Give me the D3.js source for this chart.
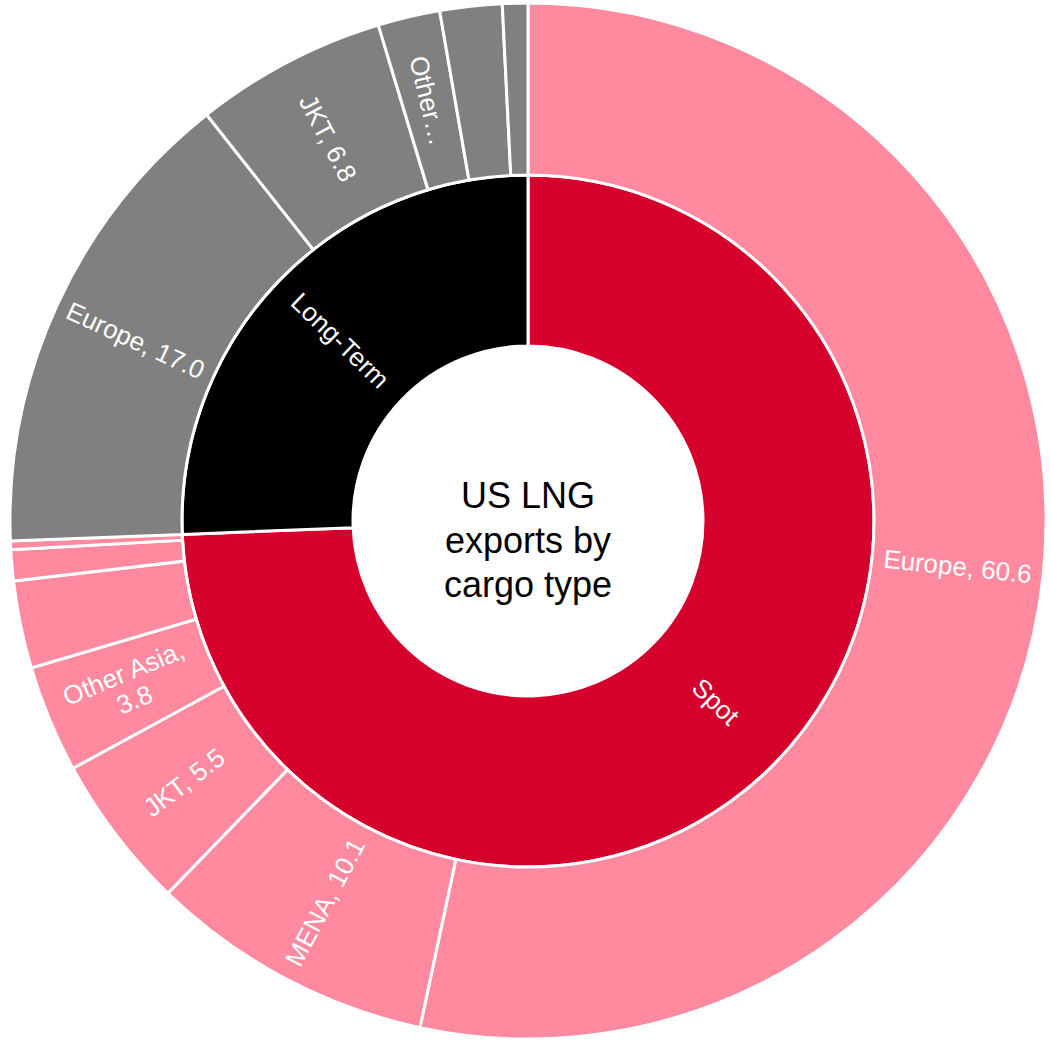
<!DOCTYPE html>
<html>
<head>
<meta charset="utf-8">
<script src="https://cdn.jsdelivr.net/npm/d3@7/dist/d3.min.js"></script>
<style>
  html, body { margin: 0; padding: 0; background: #ffffff; }
  svg { display: block; }
  text { font-family: "Liberation Sans", Arial, sans-serif; }
</style>
</head>
<body>
<div id="chart"></div>
<script>
// ---------- data ----------
const cargoTypes = ["Spot", "Long-Term"];

const spotDestinations = ["Europe", "MENA", "JKT", "Other Asia", "Americas", "Other", "Africa"];
const spotValues       = [60.6, 10.1, 5.5, 3.8, 3.1, 1.1, 0.3];
const spotLabels       = [["Europe, 60.6"], ["MENA, 10.1"], ["JKT, 5.5"], ["Other Asia,", "3.8"], [], [], []];

const longTermDestinations = ["Europe", "JKT", "Other Asia", "MENA", "Americas"];
const longTermValues       = [17.0, 6.8, 2.2, 2.2, 0.9];
const longTermLabels       = [["Europe, 17.0"], ["JKT, 6.8"], ["Other…"], [], []];

const centerTitle = ["US LNG", "exports by", "cargo type"];

// ---------- layout ----------
const W = 1051, H = 1045;
const cx = 528, cy = 521;
const r0 = 175, r1 = 346, r2 = 518;

const innerColors = { "Spot": "#d5002b", "Long-Term": "#000000" };
const outerColors = { "Spot": "#ff8aa0", "Long-Term": "#808080" };

const groups = [
  { type: cargoTypes[0], names: spotDestinations, values: spotValues, labels: spotLabels },
  { type: cargoTypes[1], names: longTermDestinations, values: longTermValues, labels: longTermLabels }
];

const innerData = groups.map(g => ({ type: g.type, value: d3.sum(g.values), labels: [g.type] }));
const outerData = groups.flatMap(g => g.values.map((v, i) => ({
  type: g.type, name: g.names[i], value: v, labels: g.labels[i]
})));

const pie = d3.pie().sort(null).value(d => d.value).startAngle(0).endAngle(2 * Math.PI);
const innerArcs = pie(innerData);
const outerArcs = pie(outerData);

const svg = d3.select("#chart").append("svg")
  .attr("width", W).attr("height", H);

const g = svg.append("g").attr("transform", `translate(${cx},${cy})`);

const arcInner = d3.arc().innerRadius(r0).outerRadius(r1);
const arcOuter = d3.arc().innerRadius(r1).outerRadius(r2);

g.selectAll("path.inner").data(innerArcs).join("path")
  .attr("class", "inner")
  .attr("d", arcInner)
  .attr("fill", d => innerColors[d.data.type])
  .attr("stroke", "#ffffff").attr("stroke-width", 3);

g.selectAll("path.outer").data(outerArcs).join("path")
  .attr("class", "outer")
  .attr("d", arcOuter)
  .attr("fill", d => outerColors[d.data.type])
  .attr("stroke", "#ffffff").attr("stroke-width", 3);

// radial labels
function drawLabels(arcs, rMid, size) {
  arcs.forEach(a => {
    const lines = a.data.labels;
    if (!lines || !lines.length) return;
    const ang = (a.startAngle + a.endAngle) / 2;
    const deg = ang * 180 / Math.PI;
    const x = rMid * Math.sin(ang), y = -rMid * Math.cos(ang);
    const rot = deg < 180 ? deg - 90 : deg - 270;
    const t = g.append("text")
      .attr("transform", `translate(${x},${y}) rotate(${rot})`)
      .attr("text-anchor", "middle")
      .attr("fill", "#ffffff")
      .attr("font-size", size);
    const lh = 1.1;
    lines.forEach((ln, i) => {
      t.append("tspan")
        .attr("x", 0)
        .attr("dy", i === 0 ? `${0.35 - (lines.length - 1) * lh / 2}em` : `${lh}em`)
        .text(ln);
    });
  });
}
drawLabels(innerArcs, (r0 + r1) / 2, 26);
drawLabels(outerArcs, (r1 + r2) / 2, 26);

// center title
const ct = g.append("text").attr("text-anchor", "middle").attr("font-size", 36).attr("fill", "#000000");
centerTitle.forEach((ln, i) => {
  ct.append("tspan").attr("x", 0).attr("y", -13 + i * 44.5).text(ln);
});
</script>
</body>
</html>
